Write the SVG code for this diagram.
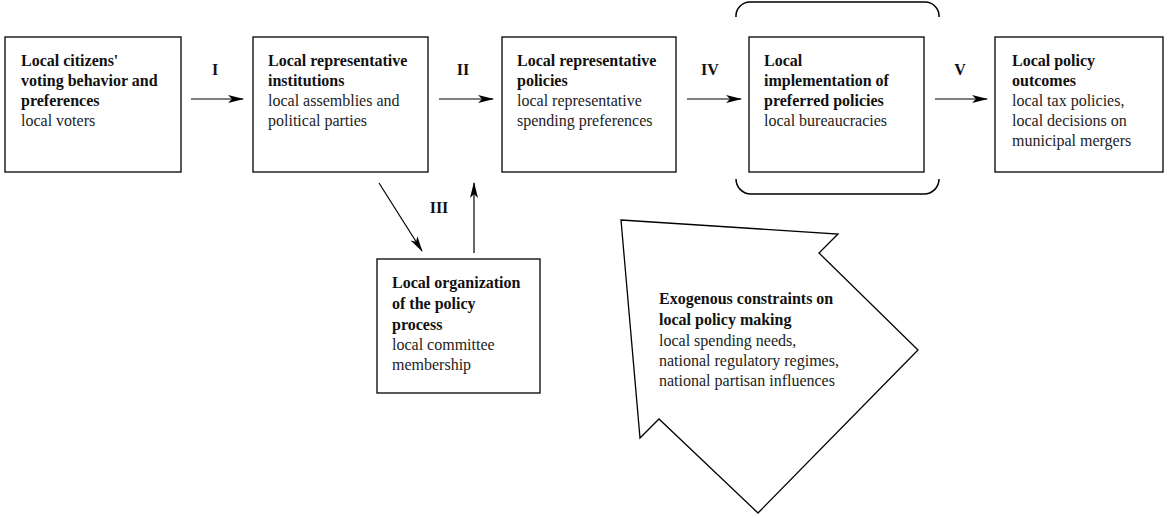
<svg xmlns="http://www.w3.org/2000/svg" width="1174" height="518" viewBox="0 0 1174 518">
<style>
.box{fill:#fff;stroke:#000;stroke-width:1.3}
.b{font-family:"Liberation Serif","Times New Roman",serif;font-size:16px;font-weight:bold;fill:#111}
.r{font-family:"Liberation Serif","Times New Roman",serif;font-size:16px;fill:#222}
.lbl{font-family:"Liberation Serif","Times New Roman",serif;font-size:16px;font-weight:bold;fill:#111;text-anchor:middle}
.con{stroke:#000;stroke-width:1.2;fill:none;marker-end:url(#ah)}
</style>
<defs>
<marker id="ah" viewBox="0 0 16 10" refX="15" refY="5" markerWidth="16" markerHeight="10" markerUnits="userSpaceOnUse" orient="auto">
<path d="M0,1 L16,5 L0,9 L4,5 Z" fill="#000"/>
</marker>
</defs>
<rect width="1174" height="518" fill="#fff"/>
<g id="n1">
<rect class="box" x="5" y="37" width="176" height="135"/>
<text class="b" x="21" y="66">Local citizens'</text>
<text class="b" x="21" y="86">voting behavior and</text>
<text class="b" x="21" y="106">preferences</text>
<text class="r" x="21" y="126">local voters</text>
</g>
<g id="n2">
<rect class="box" x="253" y="37" width="175" height="135"/>
<text class="b" x="268" y="66">Local representative</text>
<text class="b" x="268" y="86">institutions</text>
<text class="r" x="268" y="106">local assemblies and</text>
<text class="r" x="268" y="126">political parties</text>
</g>
<g id="n3">
<rect class="box" x="502" y="37" width="174" height="135"/>
<text class="b" x="517" y="66">Local representative</text>
<text class="b" x="517" y="86">policies</text>
<text class="r" x="517" y="106">local representative</text>
<text class="r" x="517" y="126">spending preferences</text>
</g>
<g id="n4">
<path d="M736,17 A14,14 0 0 1 750,2 L925,2 A14,14 0 0 1 939,17" fill="none" stroke="#000" stroke-width="1.5"/>
<path d="M736,179 A15,15 0 0 0 751,194 L924,194 A15,15 0 0 0 939,179" fill="none" stroke="#000" stroke-width="1.5"/>
<rect class="box" x="749" y="37" width="175" height="135"/>
<text class="b" x="764" y="66">Local</text>
<text class="b" x="764" y="86">implementation of</text>
<text class="b" x="764" y="106">preferred policies</text>
<text class="r" x="764" y="126">local bureaucracies</text>
</g>
<g id="n5">
<rect class="box" x="995" y="37" width="168" height="135"/>
<text class="b" x="1012" y="66">Local policy</text>
<text class="b" x="1012" y="86">outcomes</text>
<text class="r" x="1012" y="106">local tax policies,</text>
<text class="r" x="1012" y="126">local decisions on</text>
<text class="r" x="1012" y="146">municipal mergers</text>
</g>
<g id="n6">
<rect class="box" x="377" y="259" width="163" height="134"/>
<text class="b" x="392" y="288">Local organization</text>
<text class="b" x="392" y="309">of the policy</text>
<text class="b" x="392" y="330">process</text>
<text class="r" x="392" y="350">local committee</text>
<text class="r" x="392" y="370">membership</text>
</g>
<g id="n7">
<polygon points="621,220 838,234 819,253 918,350 758,513 659,419 640,438" fill="#fff" stroke="#000" stroke-width="1.3"/>
<text class="b" x="659" y="304">Exogenous constraints on</text>
<text class="b" x="659" y="325">local policy making</text>
<text class="r" x="659" y="346">local spending needs,</text>
<text class="r" x="659" y="366">national regulatory regimes,</text>
<text class="r" x="659" y="386">national partisan influences</text>
</g>
<g id="connectors">
<line class="con" x1="191" y1="99" x2="243" y2="99"/>
<line class="con" x1="439" y1="99" x2="493" y2="99"/>
<line class="con" x1="687" y1="99" x2="741" y2="99"/>
<line class="con" x1="935" y1="99" x2="987" y2="99"/>
<line class="con" x1="379" y1="183" x2="422" y2="251"/>
<line class="con" x1="474" y1="253" x2="474" y2="183"/>
<text class="lbl" x="215" y="75">I</text>
<text class="lbl" x="463" y="75">II</text>
<text class="lbl" x="710" y="75">IV</text>
<text class="lbl" x="960" y="75">V</text>
<text class="lbl" x="439" y="213">III</text>
</g>
</svg>
